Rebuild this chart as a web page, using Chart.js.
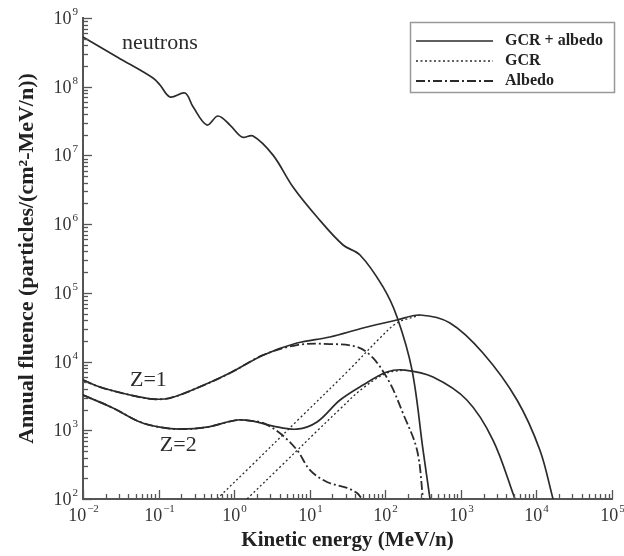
<!DOCTYPE html>
<html>
<head>
<meta charset="utf-8">
<script src="https://cdn.jsdelivr.net/npm/chart.js@4.4.0/dist/chart.umd.min.js"></script>
<style>
  html, body { margin: 0; padding: 0; background: #fff; }
  #wrap { width: 624px; height: 556px; }
</style>
</head>
<body>
<div id="wrap"><canvas id="fluenceChart" width="624" height="556"></canvas></div>
<script>
// energia em MeV/n, fluência em particles/(cm2-MeV/n)
const neutronE = [0.01, 0.029, 0.0843, 0.1045, 0.1416, 0.224, 0.286, 0.437, 0.611, 0.881, 1.27, 1.78, 3.27, 6.01, 12.5, 27.6, 46.3, 93.3, 143, 226, 316, 391];
const neutronF = [5.3e8, 2.66e8, 1.34e8, 1.06e8, 7.1e7, 8.1e7, 5.1e7, 2.77e7, 3.75e7, 2.77e7, 1.85e7, 1.92e7, 1.01e7, 3.47e6, 1.27e6, 4.97e5, 3.56e5, 1.22e5, 4.45e4, 7.5e3, 516, 100];

const z1TotalE = [0.01, 0.0168, 0.0419, 0.0844, 0.142, 0.323, 0.881, 2.41, 6.79, 18.5, 50.7, 143, 288, 718, 1960, 5530, 11100, 16600];
const z1TotalF = [5380, 4260, 3260, 2850, 2950, 4120, 6810, 12400, 18600, 22800, 30800, 40300, 47600, 36400, 13300, 2760, 516, 100];

const z2TotalE = [0.01, 0.0249, 0.0568, 0.104, 0.192, 0.437, 1.09, 1.78, 3.27, 6.79, 12.5, 25.2, 50.7, 105, 182, 428, 1200, 2660, 5200];
const z2TotalF = [3260, 2110, 1320, 1110, 1040, 1110, 1410, 1360, 1150, 1040, 1320, 2760, 4560, 7050, 7530, 5960, 2760, 721, 100];

const z1GcrE = [0.593, 1.62, 7.44, 34.1, 85.1, 143, 288];
const z1GcrF = [100, 292, 1510, 7800, 22000, 36400, 47600];

const z2GcrE = [1.48, 4.05, 12.5, 25.2, 50.7, 105, 182];
const z2GcrF = [100, 292, 975, 2040, 4120, 6810, 7530];

const z1AlbedoE = [0.01, 0.0168, 0.0419, 0.0844, 0.142, 0.323, 0.881, 2.41, 6.79, 18.5, 42.3, 68.8, 115, 171, 263, 316];
const z1AlbedoF = [5380, 4260, 3260, 2850, 2950, 4120, 6810, 12400, 17400, 18000, 16300, 11300, 4880, 1780, 516, 100];

const z2AlbedoE = [0.01, 0.0249, 0.0568, 0.104, 0.192, 0.437, 1.09, 1.78, 2.41, 4.05, 6.79, 10.1, 16.9, 31.2, 42.3, 49.2];
const z2AlbedoF = [3260, 2110, 1320, 1110, 1040, 1110, 1410, 1360, 1280, 904, 516, 263, 177, 145, 122, 100];

const legendLabels = ['GCR + albedo', 'GCR', 'Albedo'];

// rótulos dentro do gráfico (texto, energia, fluência)
const curveLabels = [
    ['neutrons', 0.0328, 4.3e8],
    ['Z=1', 0.0419, 5380],
    ['Z=2', 0.104, 611]
];

const SERIF = '"Liberation Serif", "Times New Roman", serif';
const INK = '#2b2b2b';
const SOLID = [];
const DOTTED = [2, 2.5];
const DASHDOT = [9, 3, 2, 3];

function pts(xs, ys) {
    return xs.map((x, i) => ({ x: x, y: ys[i] }));
}

function serie(label, xs, ys, dash, width) {
    return {
        label: label,
        data: pts(xs, ys),
        borderColor: INK,
        borderWidth: width,
        borderDash: dash,
        pointRadius: 0,
        fill: false,
        tension: 0.35
    };
}

function logTicks(from, to) {
    const out = [];
    for (let e = from; e <= to; e++) {
        for (let m = 1; m <= 9; m++) {
            if (e === to && m > 1) break;
            out.push(Number((m * Math.pow(10, e)).toPrecision(3)));
        }
    }
    return out;
}

function isDecade(v) {
    const l = Math.log10(v);
    return Math.abs(l - Math.round(l)) < 1e-6;
}

// "10" com expoente sobrescrito de verdade
function drawPow(ctx, exp, x, y, align) {
    const base = '10', sup = String(exp).replace('-', '\u2212');
    ctx.font = '18px ' + SERIF;
    const w1 = ctx.measureText(base).width;
    ctx.font = '11px ' + SERIF;
    const w2 = ctx.measureText(sup).width;
    let x0 = align === 'right' ? x - w1 - w2 - 1 : x - (w1 + w2 + 1) / 2;
    ctx.font = '18px ' + SERIF;
    ctx.fillText(base, x0, y);
    ctx.font = '11px ' + SERIF;
    ctx.fillText(sup, x0 + w1 + 1, y - 7);
}

// marcas dos eixos para dentro + rótulos dos eixos
const innerTicks = {
    id: 'innerTicks',
    afterDraw(chart) {
        const { ctx, chartArea } = chart;
        const xs = chart.scales.x, ys = chart.scales.y;
        ctx.save();
        ctx.strokeStyle = '#555';
        ctx.lineWidth = 1.3;
        ctx.fillStyle = '#333';
        ctx.textAlign = 'left';
        ctx.textBaseline = 'middle';
        xs.ticks.forEach(t => {
            const px = Math.round(xs.getPixelForValue(t.value)) + 0.5;
            const major = isDecade(t.value);
            ctx.beginPath();
            ctx.moveTo(px, chartArea.bottom);
            ctx.lineTo(px, chartArea.bottom - (major ? 9 : 5));
            ctx.stroke();
            if (major) drawPow(ctx, Math.round(Math.log10(t.value)), px, chartArea.bottom + 17, 'center');
        });
        ys.ticks.forEach(t => {
            const py = Math.round(ys.getPixelForValue(t.value)) + 0.5;
            const major = isDecade(t.value);
            ctx.beginPath();
            ctx.moveTo(chartArea.left, py);
            ctx.lineTo(chartArea.left + (major ? 9 : 5), py);
            ctx.stroke();
            if (major) drawPow(ctx, Math.round(Math.log10(t.value)), chartArea.left - 5, py + 1, 'right');
        });
        ctx.restore();
    }
};

const curveText = {
    id: 'curveText',
    afterDatasetsDraw(chart) {
        const { ctx } = chart;
        ctx.save();
        ctx.fillStyle = INK;
        ctx.font = '22px ' + SERIF;
        ctx.textAlign = 'left';
        ctx.textBaseline = 'middle';
        curveLabels.forEach(([txt, e, f]) => {
            ctx.fillText(txt, chart.scales.x.getPixelForValue(e), chart.scales.y.getPixelForValue(f));
        });
        ctx.restore();
    }
};

// legenda desenhada à mão (caixa no canto superior direito)
const boxLegend = {
    id: 'boxLegend',
    afterDraw(chart) {
        const { ctx, chartArea } = chart;
        const right = chartArea.right + 2, top = chartArea.top + 4;
        const w = 204, h = 70;
        const left = right - w;
        ctx.save();
        ctx.strokeStyle = '#999';
        ctx.lineWidth = 1.5;
        ctx.strokeRect(left + 0.5, top + 0.5, w, h);
        const dashes = [SOLID, DOTTED, DASHDOT];
        const widths = [1.7, 1.3, 1.8];
        ctx.font = 'bold 16px ' + SERIF;
        ctx.fillStyle = '#222';
        ctx.textBaseline = 'middle';
        legendLabels.forEach((txt, i) => {
            const y = top + 19 + i * 20;
            ctx.strokeStyle = INK;
            ctx.lineWidth = widths[i];
            ctx.setLineDash(dashes[i]);
            ctx.beginPath();
            ctx.moveTo(left + 6, y);
            ctx.lineTo(left + 83, y);
            ctx.stroke();
            ctx.setLineDash([]);
            ctx.fillText(txt, left + 95, y);
        });
        ctx.restore();
    }
};

const ctx = document.getElementById('fluenceChart');
new Chart(ctx, {
    type: 'line',
    data: {
        datasets: [
            serie('neutrons', neutronE, neutronF, SOLID, 1.7),
            serie('Z=1 GCR + albedo', z1TotalE, z1TotalF, SOLID, 1.7),
            serie('Z=2 GCR + albedo', z2TotalE, z2TotalF, SOLID, 1.7),
            serie('Z=1 GCR', z1GcrE, z1GcrF, DOTTED, 1.3),
            serie('Z=2 GCR', z2GcrE, z2GcrF, DOTTED, 1.3),
            serie('Z=1 Albedo', z1AlbedoE, z1AlbedoF, DASHDOT, 1.8),
            serie('Z=2 Albedo', z2AlbedoE, z2AlbedoF, DASHDOT, 1.8)
        ]
    },
    options: {
        responsive: false,
        animation: false,
        layout: { padding: { top: 18, right: 12, left: 0, bottom: 0 } },
        plugins: { legend: { display: false }, tooltip: { enabled: false } },
        scales: {
            x: {
                type: 'logarithmic',
                min: 0.01,
                max: 1e5,
                afterBuildTicks: (axis) => { axis.ticks = logTicks(-2, 5).map(v => ({ value: v })); },
                afterFit: (axis) => { axis.height = 57; axis.paddingLeft = 0; axis.paddingRight = 0; },
                grid: { display: false, drawTicks: false },
                border: { display: true, color: '#555', width: 2 },
                ticks: { display: false },
                title: {
                    display: true,
                    text: 'Kinetic energy (MeV/n)',
                    color: '#222',
                    font: { family: SERIF, size: 21, weight: 'bold' },
                    padding: { top: 0, bottom: 3 }
                }
            },
            y: {
                type: 'logarithmic',
                min: 100,
                max: 1e9,
                afterBuildTicks: (axis) => { axis.ticks = logTicks(2, 9).map(v => ({ value: v })); },
                afterFit: (axis) => { axis.width = 83; axis.paddingTop = 0; axis.paddingBottom = 0; },
                grid: { display: false, drawTicks: false },
                border: { display: true, color: '#555', width: 2 },
                ticks: { display: false },
                title: {
                    display: true,
                    text: 'Annual fluence (particles/(cm²-MeV/n))',
                    color: '#222',
                    font: { family: SERIF, size: 22, weight: 'bold' },
                    padding: { top: 14, bottom: 0 }
                }
            }
        }
    },
    plugins: [innerTicks, curveText, boxLegend]
});
</script>
</body>
</html>
